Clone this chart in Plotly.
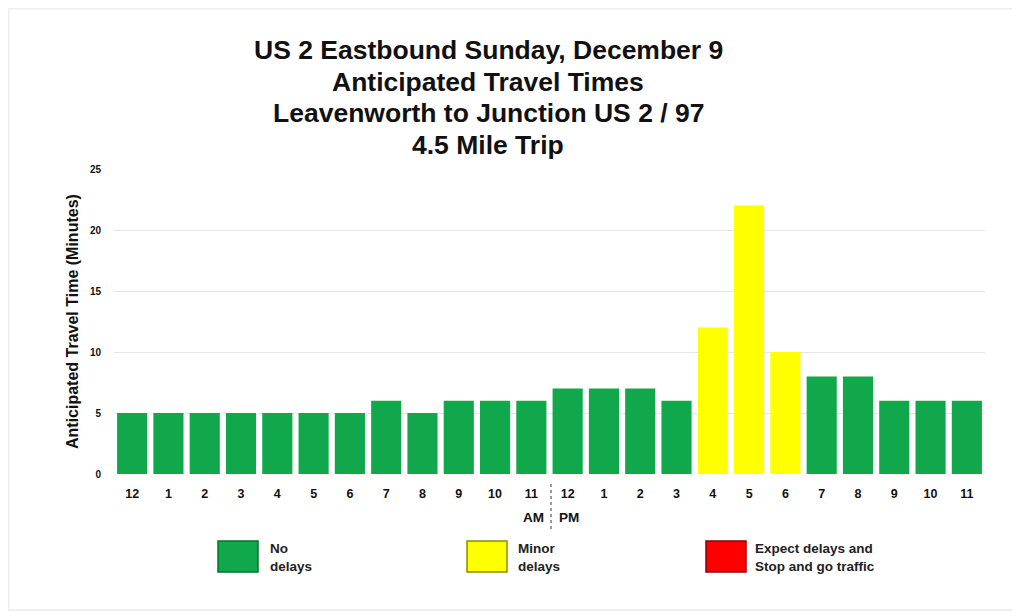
import plotly.graph_objects as go

hours = ["12", "1", "2", "3", "4", "5", "6", "7", "8", "9", "10", "11",
         "12", "1", "2", "3", "4", "5", "6", "7", "8", "9", "10", "11"]
minutes = [5, 5, 5, 5, 5, 5, 5, 6, 5, 6, 6, 6,
           7, 7, 7, 6, 12, 22, 10, 8, 8, 6, 6, 6]
status = ["No delays"] * 16 + ["Minor delays"] * 3 + ["No delays"] * 5
y_ticks = [0, 5, 10, 15, 20, 25]
legend_labels = ["No<br>delays", "Minor<br>delays", "Expect delays and<br>Stop and go traffic"]
legend_names = ["No delays", "Minor delays", "Expect delays"]
title_lines = ["US 2 Eastbound Sunday, December 9", "Anticipated Travel Times",
               "Leavenworth to Junction US 2 / 97", "4.5 Mile Trip"]

colors = {"No delays": "#10A84A", "Minor delays": "#FFFF00", "Expect delays": "#FF0000"}
outline = {"No delays": "#0A6E30", "Minor delays": "#8A8A00", "Expect delays": "#8A0000"}

OFF = 8  # page body margin
W, H = 1020 - OFF, 616 - OFF
# plot area in reference pixel coords
X0, X1, Y0, Y1 = 114, 985, 169, 474
L, R, T, B = X0 - OFF, (1020 - X1), Y0 - OFF, (616 - Y1)
PW = W - L - R
PH = H - T - B

def px(x):
    return (x - X0) / PW

def py(y):
    return (Y1 - y) / PH

FONT = "Liberation Sans, Arial, sans-serif"

fig = go.Figure()
fig.add_trace(go.Bar(
    x=list(range(len(minutes))), y=minutes,
    marker=dict(color=[colors[s] for s in status], line=dict(width=0)),
    showlegend=False,
))

shapes = []
annotations = []

# faint outer border
shapes.append(dict(type="rect", xref="paper", yref="paper", x0=px(8.5), x1=px(1014),
                   y0=py(8.5), y1=py(610), line=dict(color="#EEEEEE", width=2), layer="below"))

# title
for i, line in enumerate(title_lines):
    annotations.append(dict(text="<b>%s</b>" % line, x=px(488), y=py(50 + 31.7 * i),
                            xref="paper", yref="paper", showarrow=False,
                            xanchor="center", yanchor="middle",
                            font=dict(size=26.5, color="#111111", family=FONT)))

# y-axis title
annotations.append(dict(text="<b>Anticipated Travel Time (Minutes)</b>", x=px(72), y=py(322),
                        xref="paper", yref="paper", showarrow=False, textangle=-90,
                        xanchor="center", yanchor="middle",
                        font=dict(size=16, color="#111", family=FONT)))

# AM / PM
annotations.append(dict(text="<b>AM</b>", x=px(546), y=py(517), xref="paper", yref="paper",
                        showarrow=False, xanchor="right", yanchor="middle",
                        font=dict(size=13.5, color="#111", family=FONT)))
annotations.append(dict(text="<b>PM</b>", x=px(557), y=py(517), xref="paper", yref="paper",
                        showarrow=False, xanchor="left", yanchor="middle",
                        font=dict(size=13.5, color="#111", family=FONT)))
shapes.append(dict(type="line", xref="paper", yref="paper", x0=px(551), x1=px(551),
                   y0=py(484), y1=py(530), line=dict(color="#333", width=1, dash="dot")))

# legend boxes
box_x = [218, 467, 706]
text_x = [268, 516, 753]
for bx, tx, name, lab in zip(box_x, text_x, legend_names, legend_labels):
    shapes.append(dict(type="rect", xref="paper", yref="paper",
                       x0=px(bx), x1=px(bx + 40), y0=py(541), y1=py(572),
                       fillcolor=colors[name], line=dict(color=outline[name], width=1.5)))
    annotations.append(dict(text="<b>%s</b>" % lab, x=px(tx), y=py(557), xref="paper", yref="paper",
                            showarrow=False, xanchor="left", yanchor="middle", align="left",
                            font=dict(size=13.5, color="#222", family=FONT)))

fig.update_layout(
    width=W, height=H,
    margin=dict(l=L, r=R, t=T, b=B, pad=0),
    paper_bgcolor="white", plot_bgcolor="white",
    bargap=0.17,
    shapes=shapes, annotations=annotations,
    font=dict(family=FONT, color="#111"),
    xaxis=dict(tickmode="array", tickvals=list(range(len(hours))),
               ticktext=["<b>%s</b>" % h for h in hours],
               tickfont=dict(size=12.5), range=[-0.5, len(hours) - 0.5],
               showgrid=False, zeroline=False, showline=False, ticks="",
               ticklabelstandoff=10),
    yaxis=dict(range=[0, 25], tickmode="array", tickvals=y_ticks,
               ticktext=["<b>%d</b>" % v for v in y_ticks], tickfont=dict(size=10),
               showgrid=True, gridcolor="#E6E6E6", gridwidth=1, zeroline=False,
               ticklabelstandoff=12),
)

fig.write_html("out.html")
